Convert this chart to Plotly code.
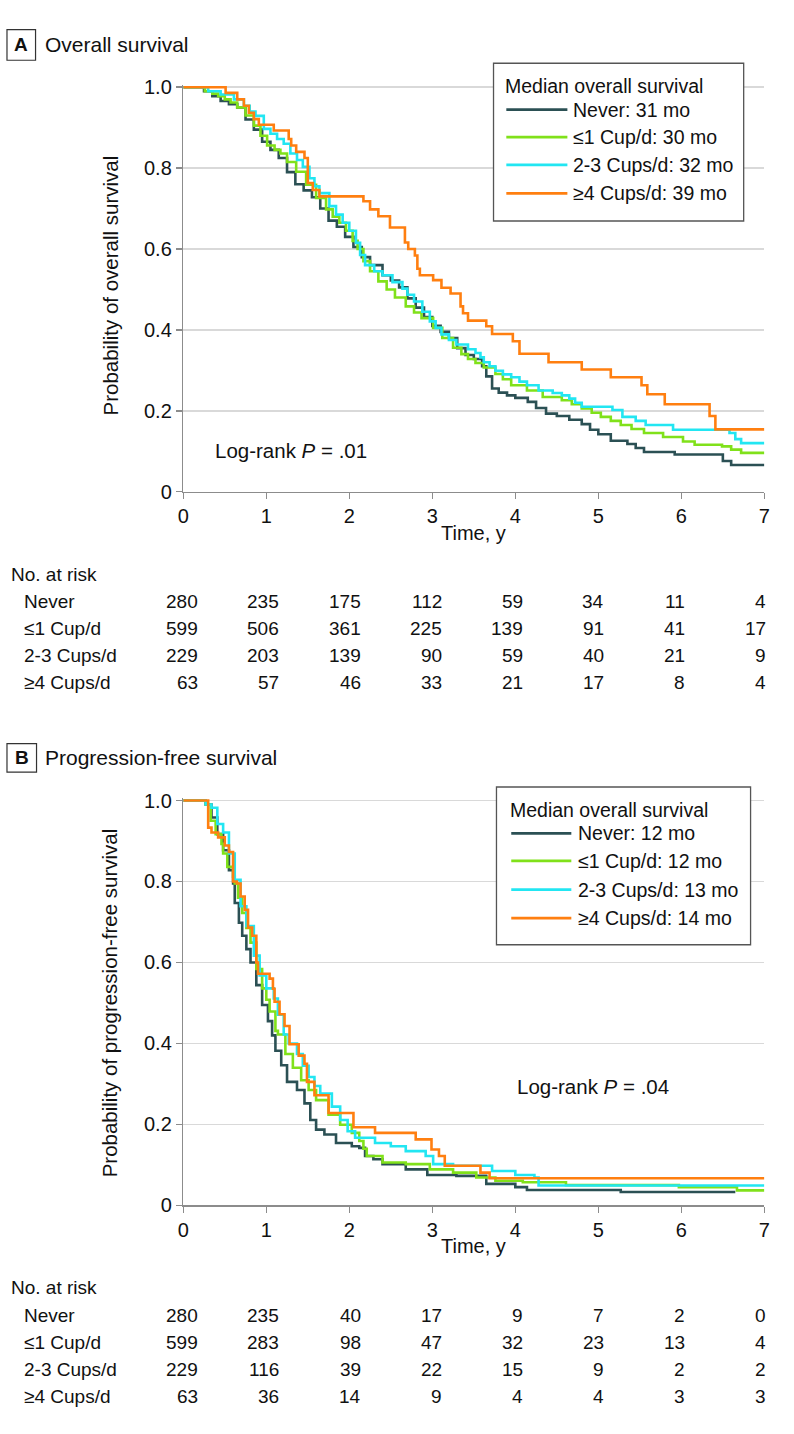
import plotly.graph_objects as go

W, H = 794, 1434

groups = ["Never", "≤1 Cup/d", "2-3 Cups/d", "≥4 Cups/d"]
colors = ["#2B5054", "#80E11A", "#22E6F2", "#FF7F10"]
os_median = [31, 30, 32, 39]
pfs_median = [12, 12, 13, 14]
risk_times = [0, 1, 2, 3, 4, 5, 6, 7]

# ---------------- Overall survival (panel A) ----------------
os_never_t = [0, 0.25, 0.35, 0.45, 0.55, 0.65, 0.75, 0.85, 0.95, 1.05, 1.15, 1.25, 1.35, 1.45, 1.55, 1.65, 1.75, 1.85, 1.95, 2.05,
              2.15, 2.25, 2.4, 2.5, 2.6, 2.7, 2.8, 2.9, 3.0, 3.1, 3.2, 3.3, 3.4, 3.5, 3.6, 3.65, 3.72, 3.8, 3.9, 4.0,
              4.15, 4.25, 4.37, 4.5, 4.65, 4.8, 4.9, 5.0, 5.15, 5.35, 5.45, 5.55, 5.92, 6.5, 6.6, 7.0]
os_never_s = [1.0, 0.99, 0.978, 0.966, 0.958, 0.95, 0.92, 0.895, 0.865, 0.845, 0.825, 0.79, 0.76, 0.745, 0.728, 0.70, 0.67, 0.655, 0.63, 0.605,
              0.58, 0.56, 0.535, 0.522, 0.505, 0.478, 0.455, 0.432, 0.41, 0.395, 0.38, 0.355, 0.338, 0.328, 0.31, 0.285, 0.255, 0.245, 0.238, 0.232,
              0.222, 0.207, 0.193, 0.187, 0.178, 0.167, 0.153, 0.142, 0.126, 0.118, 0.108, 0.098, 0.092, 0.076, 0.066, 0.066]

os_le1_t = [0, 0.26, 0.35, 0.42, 0.5, 0.57, 0.65, 0.75, 0.85, 0.93, 1.01, 1.1, 1.17, 1.25, 1.36, 1.48, 1.6, 1.72, 1.8, 1.88,
            1.96, 2.04, 2.1, 2.17, 2.25, 2.35, 2.45, 2.55, 2.68, 2.78, 2.87, 3.01, 3.12, 3.25, 3.35, 3.43, 3.52, 3.62, 3.76, 3.85,
            3.95, 4.14, 4.33, 4.56, 4.68, 4.8, 4.92, 5.03, 5.15, 5.27, 5.4, 5.55, 5.78, 6.02, 6.16, 6.49, 6.6, 6.72, 7.0]
os_le1_s = [1.0, 0.99, 0.984, 0.978, 0.97, 0.962, 0.95, 0.93, 0.905, 0.88, 0.856, 0.845, 0.836, 0.815, 0.791, 0.759, 0.726, 0.698, 0.68, 0.665,
            0.645, 0.62, 0.6, 0.57, 0.545, 0.52, 0.5, 0.48, 0.458, 0.443, 0.429, 0.405, 0.38, 0.356, 0.34, 0.328, 0.318, 0.307, 0.291, 0.278,
            0.263, 0.25, 0.234, 0.226, 0.216, 0.206, 0.195, 0.185, 0.175, 0.165, 0.155, 0.145, 0.135, 0.124, 0.116, 0.112, 0.104, 0.096, 0.096]

os_2to3_t = [0, 0.3, 0.45, 0.61, 0.73, 0.8, 0.87, 0.97, 1.05, 1.13, 1.21, 1.29, 1.37, 1.44, 1.52, 1.58, 1.64, 1.76, 1.84, 1.92,
             2.0, 2.08, 2.13, 2.19, 2.3, 2.4, 2.52, 2.64, 2.7, 2.78, 2.88, 2.97, 3.04, 3.11, 3.2, 3.29, 3.43, 3.52, 3.58, 3.62,
             3.69, 3.76, 3.85, 3.95, 4.05, 4.14, 4.28, 4.45, 4.56, 4.65, 4.72, 4.8, 5.17, 5.29, 5.45, 5.57, 5.9, 6.58, 6.65, 6.72, 7.0]
os_2to3_s = [1.0, 0.99, 0.982, 0.97, 0.954, 0.94, 0.929, 0.897, 0.885, 0.872, 0.86, 0.836, 0.82, 0.803, 0.775, 0.755, 0.738, 0.706, 0.685, 0.665,
             0.645, 0.615, 0.585, 0.56, 0.545, 0.535, 0.518, 0.502, 0.487, 0.47, 0.445, 0.421, 0.405, 0.389, 0.375, 0.364, 0.352, 0.343, 0.332, 0.32,
             0.31, 0.299, 0.29, 0.283, 0.272, 0.263, 0.25, 0.244, 0.238, 0.23, 0.22, 0.21, 0.202, 0.185, 0.175, 0.165, 0.153, 0.145, 0.13, 0.12, 0.12]

os_ge4_t = [0, 0.51, 0.65, 0.73, 0.79, 0.85, 0.91, 1.09, 1.27, 1.30, 1.36, 1.46, 1.50, 1.56, 1.64, 2.17, 2.25, 2.35, 2.49, 2.67,
            2.71, 2.79, 2.82, 2.85, 3.01, 3.11, 3.22, 3.34, 3.37, 3.43, 3.65, 3.72, 3.97, 4.05, 4.40, 4.80, 5.15, 5.52, 5.59, 5.80,
            6.34, 6.41, 7.0]
os_ge4_s = [1.0, 0.986, 0.970, 0.954, 0.937, 0.921, 0.907, 0.893, 0.872, 0.856, 0.840, 0.825, 0.763, 0.746, 0.730, 0.718, 0.698, 0.681, 0.653, 0.616,
            0.600, 0.584, 0.551, 0.535, 0.523, 0.504, 0.490, 0.458, 0.441, 0.423, 0.409, 0.390, 0.372, 0.341, 0.320, 0.302, 0.283, 0.263, 0.241, 0.216,
            0.187, 0.154, 0.154]

os_risk_never = [280, 235, 175, 112, 59, 34, 11, 4]
os_risk_le1 = [599, 506, 361, 225, 139, 91, 41, 17]
os_risk_2to3 = [229, 203, 139, 90, 59, 40, 21, 9]
os_risk_ge4 = [63, 57, 46, 33, 21, 17, 8, 4]

# ---------------- Progression-free survival (panel B) ----------------
pfs_never_t = [0, 0.27, 0.34, 0.41, 0.48, 0.55, 0.60, 0.62, 0.67, 0.71, 0.76, 0.81, 0.88, 0.95, 1.02, 1.07, 1.11, 1.18, 1.25, 1.37,
               1.46, 1.53, 1.60, 1.70, 1.84, 2.03, 2.12, 2.19, 2.29, 2.40, 2.68, 2.94, 3.29, 3.65, 4.00, 4.14, 5.27, 6.65]
pfs_never_s = [1.0, 0.99, 0.958, 0.917, 0.877, 0.828, 0.795, 0.747, 0.698, 0.666, 0.633, 0.60, 0.544, 0.495, 0.455, 0.42, 0.382, 0.346, 0.305, 0.285,
               0.252, 0.211, 0.187, 0.175, 0.154, 0.146, 0.142, 0.122, 0.114, 0.102, 0.089, 0.075, 0.073, 0.053, 0.045, 0.038, 0.033, 0.033]

pfs_le1_t = [0, 0.27, 0.33, 0.39, 0.46, 0.48, 0.53, 0.60, 0.62, 0.66, 0.71, 0.76, 0.81, 0.88, 0.95, 1.0, 1.04, 1.11, 1.14, 1.23,
             1.32, 1.42, 1.51, 1.60, 1.75, 1.89, 2.03, 2.12, 2.17, 2.21, 2.40, 2.68, 2.97, 3.25, 3.53, 3.76, 4.09, 4.61, 5.97, 6.67, 7.0]
pfs_le1_s = [1.0, 0.99, 0.95, 0.917, 0.893, 0.869, 0.836, 0.812, 0.795, 0.76, 0.722, 0.685, 0.649, 0.584, 0.536, 0.508, 0.479, 0.431, 0.422, 0.374,
             0.34, 0.309, 0.285, 0.26, 0.224, 0.199, 0.179, 0.159, 0.14, 0.122, 0.106, 0.102, 0.089, 0.081, 0.069, 0.061, 0.057, 0.050, 0.045, 0.037, 0.037]

pfs_2to3_t = [0, 0.27, 0.34, 0.41, 0.48, 0.55, 0.62, 0.69, 0.76, 0.85, 0.92, 1.0, 1.09, 1.14, 1.21, 1.27, 1.37, 1.44, 1.51, 1.58,
              1.65, 1.79, 1.89, 1.98, 2.07, 2.31, 2.50, 2.68, 2.92, 3.01, 3.25, 3.72, 4.00, 4.23, 4.28, 7.0]
pfs_2to3_s = [1.0, 0.99, 0.982, 0.942, 0.921, 0.869, 0.804, 0.739, 0.690, 0.617, 0.568, 0.536, 0.511, 0.471, 0.422, 0.40, 0.374, 0.345, 0.317, 0.295,
              0.276, 0.244, 0.211, 0.183, 0.167, 0.154, 0.146, 0.134, 0.122, 0.102, 0.098, 0.085, 0.075, 0.069, 0.049, 0.049]

pfs_ge4_t = [0, 0.30, 0.34, 0.42, 0.50, 0.55, 0.60, 0.645, 0.69, 0.74, 0.78, 0.83, 0.88, 0.90, 1.04, 1.08, 1.10, 1.16, 1.22, 1.28,
             1.39, 1.46, 1.49, 1.58, 1.75, 2.05, 2.31, 2.80, 2.99, 3.08, 3.15, 3.58, 3.69, 7.0]
pfs_ge4_s = [1.0, 0.933, 0.921, 0.909, 0.889, 0.873, 0.80, 0.795, 0.763, 0.730, 0.686, 0.666, 0.60, 0.572, 0.560, 0.535, 0.503, 0.472, 0.443, 0.398,
             0.370, 0.350, 0.305, 0.272, 0.228, 0.193, 0.179, 0.163, 0.138, 0.122, 0.098, 0.081, 0.067, 0.067]

pfs_risk_never = [280, 235, 40, 17, 9, 7, 2, 0]
pfs_risk_le1 = [599, 283, 98, 47, 32, 23, 13, 4]
pfs_risk_2to3 = [229, 116, 39, 22, 15, 9, 2, 2]
pfs_risk_ge4 = [63, 36, 14, 9, 4, 4, 3, 3]

# ---------------------------------------------------------------
FONT = "Liberation Sans, Arial, sans-serif"
TXT = "#111111"
AXC = "#8C8C8C"
GRID = "#D9D9D9"


def px(x):
    return x / W


def py(y):
    return 1 - y / H


panels = [
    dict(
        letter="A", title="Overall survival", ytitle="Probability of overall survival",
        curves=[(os_never_t, os_never_s), (os_le1_t, os_le1_s), (os_2to3_t, os_2to3_s), (os_ge4_t, os_ge4_s)],
        risk=[os_risk_never, os_risk_le1, os_risk_2to3, os_risk_ge4], med=os_median, pval=".01",
        y0=489.5, y1=79.3, title_y=36.5, box=(1, 21, 30, 52), ytitle_y=280,
        leg=dict(x0=495, y0=55, x1=749, y1=215, ty=78, items=[102, 130, 158, 187], lx0=508, lx1=570, tx=577),
        plog=(213, 448), xlab_y=531, risk_y=[574, 601, 628, 656, 683],
    ),
    dict(
        letter="B", title="Progression-free survival", ytitle="Probability of progression-free survival",
        curves=[(pfs_never_t, pfs_never_s), (pfs_le1_t, pfs_le1_s), (pfs_2to3_t, pfs_2to3_s), (pfs_ge4_t, pfs_ge4_s)],
        risk=[pfs_risk_never, pfs_risk_le1, pfs_risk_2to3, pfs_risk_ge4], med=pfs_median, pval=".04",
        y0=1213.3, y1=802.7, title_y=759.5, box=(1, 745, 31, 774), ytitle_y=1008,
        leg=dict(x0=498, y0=789, x1=756, y1=949, ty=812, items=[836, 864, 893, 922], lx0=513, lx1=574, tx=582),
        plog=(520, 1093), xlab_y=1255, risk_y=[1297, 1325, 1352, 1380, 1407],
    ),
]

fig = go.Figure()
shapes = []
annotations = []
X0, X1 = 180.0, 770.0
YTOP = 1.006

for i, p in enumerate(panels):
    k = "" if i == 0 else str(i + 1)
    xa, ya = "x" + k, "y" + k
    for (t, s), c, g in zip(p["curves"], colors, groups):
        fig.add_trace(go.Scatter(x=t, y=s, mode="lines", line=dict(color=c, width=2.6, shape="hv"),
                                 name=g, showlegend=False, xaxis=xa, yaxis=ya, hoverinfo="skip"))
    unit = (p["y0"] - p["y1"])
    top_px = p["y0"] - YTOP * unit
    fig.layout["xaxis" + k] = dict(
        domain=[px(X0), px(X1)], range=[0, 7], anchor=ya, tickvals=risk_times,
        ticktext=[str(v) for v in risk_times], ticks="outside", ticklen=6, tickwidth=1.5, tickcolor=AXC,
        showline=True, linecolor=AXC, linewidth=1.5, showgrid=False, zeroline=False,
        tickfont=dict(family=FONT, size=20, color=TXT),
    )
    fig.layout["yaxis" + k] = dict(
        domain=[py(p["y0"]), py(top_px)], range=[0, YTOP], anchor=xa,
        tickvals=[0, 0.2, 0.4, 0.6, 0.8, 1.0], ticktext=["0", "0.2", "0.4", "0.6", "0.8", "1.0"],
        ticks="outside", ticklen=6, tickwidth=1.5, tickcolor=AXC,
        showline=True, linecolor=AXC, linewidth=1.5, showgrid=True, gridcolor=GRID, gridwidth=1.5,
        zeroline=False, tickfont=dict(family=FONT, size=20, color=TXT),
    )
    # panel label box + title
    bx0, by0, bx1, by1 = p["box"]
    shapes.append(dict(type="rect", xref="paper", yref="paper", x0=px(bx0), x1=px(bx1), y0=py(by0), y1=py(by1),
                       line=dict(color="#333333", width=1.2)))
    annotations.append(dict(text="<b>%s</b>" % p["letter"], xref="paper", yref="paper", x=px((bx0 + bx1) / 2),
                            y=py((by0 + by1) / 2), showarrow=False, xanchor="center", yanchor="middle",
                            font=dict(family=FONT, size=19, color=TXT)))
    annotations.append(dict(text=p["title"], xref="paper", yref="paper", x=px(38), y=py(p["title_y"]),
                            showarrow=False, xanchor="left", yanchor="middle", font=dict(family=FONT, size=21, color=TXT)))
    # y title
    annotations.append(dict(text=p["ytitle"], xref="paper", yref="paper", x=px(106), y=py(p["ytitle_y"]),
                            textangle=-90, showarrow=False, xanchor="center", yanchor="middle",
                            font=dict(family=FONT, size=20.5, color=TXT)))
    # x title
    annotations.append(dict(text="Time, y", xref="paper", yref="paper", x=px(475), y=py(p["xlab_y"]),
                            showarrow=False, xanchor="center", yanchor="middle", font=dict(family=FONT, size=20, color=TXT)))
    # log-rank
    annotations.append(dict(text="Log-rank <i>P</i> = %s" % p["pval"], xref="paper", yref="paper",
                            x=px(p["plog"][0] - 3), y=py(p["plog"][1]), showarrow=False, xanchor="left", yanchor="middle",
                            font=dict(family=FONT, size=20.5, color=TXT)))
    # legend (drawn)
    L = p["leg"]
    shapes.append(dict(type="rect", xref="paper", yref="paper", x0=px(L["x0"]), x1=px(L["x1"]), y0=py(L["y0"]),
                       y1=py(L["y1"]), line=dict(color="#555555", width=1.3), fillcolor="white", layer="above"))
    annotations.append(dict(text="Median overall survival", xref="paper", yref="paper", x=px(L["lx0"] - 3),
                            y=py(L["ty"]), showarrow=False, xanchor="left", yanchor="middle",
                            font=dict(family=FONT, size=19.5, color=TXT)))
    for yy, c, g, m in zip(L["items"], colors, groups, p["med"]):
        shapes.append(dict(type="line", xref="paper", yref="paper", x0=px(L["lx0"]), x1=px(L["lx1"]),
                           y0=py(yy), y1=py(yy), line=dict(color=c, width=2.8), layer="above"))
        annotations.append(dict(text="%s: %d mo" % (g, m), xref="paper", yref="paper", x=px(L["tx"] - 3),
                                y=py(yy), showarrow=False, xanchor="left", yanchor="middle",
                                font=dict(family=FONT, size=19.5, color=TXT)))
    # risk table
    ry = p["risk_y"]
    annotations.append(dict(text="No. at risk", xref="paper", yref="paper", x=px(3), y=py(ry[0]), showarrow=False,
                            xanchor="left", yanchor="middle", font=dict(family=FONT, size=19, color=TXT)))
    for row, (g, vals) in enumerate(zip(groups, p["risk"])):
        yy = ry[row + 1]
        annotations.append(dict(text=g, xref="paper", yref="paper", x=px(16), y=py(yy), showarrow=False,
                                xanchor="left", yanchor="middle", font=dict(family=FONT, size=19, color=TXT)))
        for t, v in zip(risk_times, vals):
            annotations.append(dict(text=str(v), xref=xa, yref="paper", x=t, y=py(yy), showarrow=False,
                                    xanchor="right", yanchor="middle", xshift=17 - 13 * t / 7,
                                    font=dict(family=FONT, size=19, color=TXT)))

fig.update_layout(
    width=W, height=H, autosize=False, margin=dict(l=0, r=0, t=0, b=0),
    paper_bgcolor="white", plot_bgcolor="white", showlegend=False,
    shapes=shapes, annotations=annotations, font=dict(family=FONT, color=TXT),
)

fig.write_html("out.html", config={"displayModeBar": False, "staticPlot": True},
               post_script="document.body.style.margin='0';")
